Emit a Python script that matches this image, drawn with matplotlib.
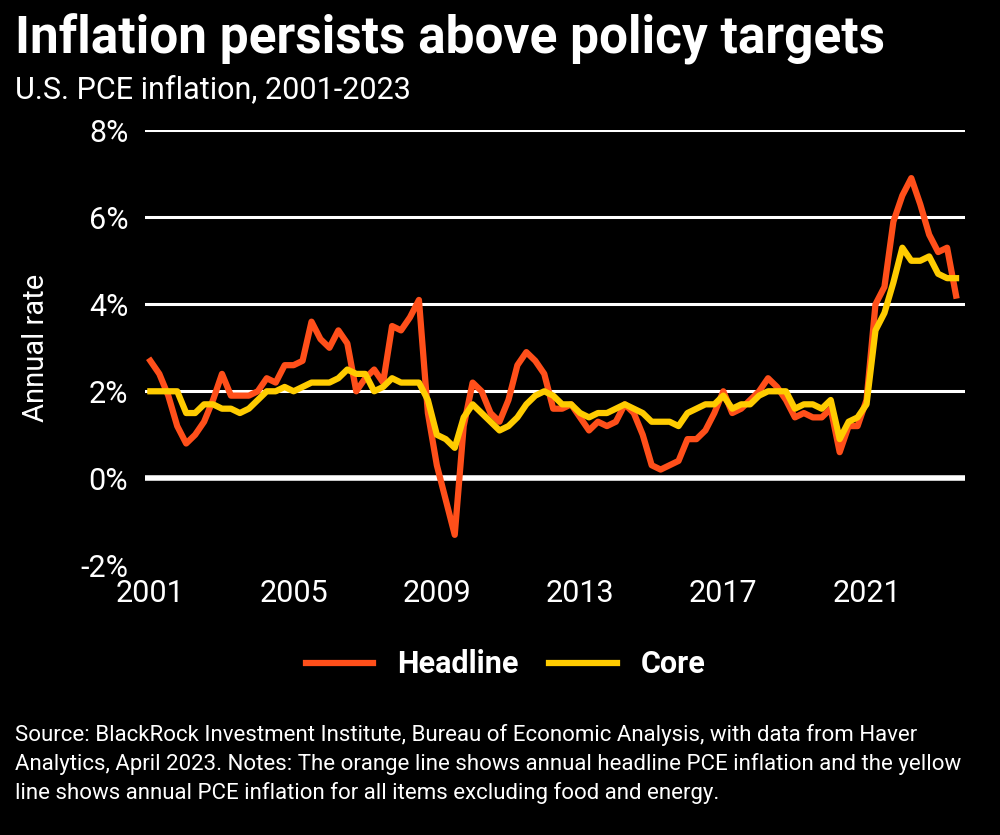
import numpy as np
import matplotlib.pyplot as plt

# quarterly readings, 2001 Q1 onwards (annual rate, %)
headline = [2.7, 2.4, 1.9, 1.2,
            0.8, 1.0, 1.3, 1.8,
            2.4, 1.9, 1.9, 1.9,
            2.0, 2.3, 2.2, 2.6,
            2.6, 2.7, 3.6, 3.2,
            3.0, 3.4, 3.1, 2.0,
            2.3, 2.5, 2.2, 3.5,
            3.4, 3.7, 4.1, 1.5,
            0.3, -0.5, -1.3, 1.2,
            2.2, 2.0, 1.5, 1.3,
            1.8, 2.6, 2.9, 2.7,
            2.4, 1.6, 1.6, 1.7,
            1.4, 1.1, 1.3, 1.2,
            1.3, 1.7, 1.5, 1.0,
            0.3, 0.2, 0.3, 0.4,
            0.9, 0.9, 1.1, 1.5,
            2.0, 1.5, 1.6, 1.8,
            2.0, 2.3, 2.1, 1.8,
            1.4, 1.5, 1.4, 1.4,
            1.6, 0.6, 1.2, 1.2,
            1.8, 4.0, 4.4, 5.9,
            6.5, 6.9, 6.3, 5.6,
            5.2, 5.3, 4.2]
core = [2.0, 2.0, 2.0, 2.0,
        1.5, 1.5, 1.7, 1.7,
        1.6, 1.6, 1.5, 1.6,
        1.8, 2.0, 2.0, 2.1,
        2.0, 2.1, 2.2, 2.2,
        2.2, 2.3, 2.5, 2.4,
        2.4, 2.0, 2.1, 2.3,
        2.2, 2.2, 2.2, 1.8,
        1.0, 0.9, 0.7, 1.4,
        1.7, 1.5, 1.3, 1.1,
        1.2, 1.4, 1.7, 1.9,
        2.0, 1.9, 1.7, 1.7,
        1.5, 1.4, 1.5, 1.5,
        1.6, 1.7, 1.6, 1.5,
        1.3, 1.3, 1.3, 1.2,
        1.5, 1.6, 1.7, 1.7,
        1.9, 1.6, 1.7, 1.7,
        1.9, 2.0, 2.0, 2.0,
        1.6, 1.7, 1.7, 1.6,
        1.8, 0.9, 1.3, 1.4,
        1.7, 3.4, 3.8, 4.5,
        5.3, 5.0, 5.0, 5.1,
        4.7, 4.6, 4.6]
dates = 2001 + np.arange(len(headline)) / 4
year_ticks = [2001, 2005, 2009, 2013, 2017, 2021]
pct_ticks = [-2, 0, 2, 4, 6, 8]

plt.rcParams['font.family'] = ['Roboto', 'DejaVu Sans']
fig = plt.figure(figsize=(10, 8.35), dpi=100, facecolor='black')
ax = fig.add_axes([0.145, 0.323, 0.82, 0.521], facecolor='black')

for v in pct_ticks[2:]:
    ax.axhline(v, color='white', lw=2.2, zorder=1)
ax.axhline(0, color='white', lw=4, zorder=1)

ax.plot(dates, headline, color='#ff4f1a', lw=4.5, zorder=3, label='Headline')
ax.plot(dates, core, color='#ffcc00', lw=4.5, zorder=4, label='Core')

ax.set_xlim(2000.85, 2023.75)
ax.set_ylim(-2, 8)
ax.set_xticks(year_ticks)
ax.set_yticks(pct_ticks)
ax.set_yticklabels([f'{v}%' for v in pct_ticks])
ax.tick_params(colors='white', labelsize=22, length=0, pad=12)
ax.tick_params(axis='x', pad=10)
for s in ax.spines.values():
    s.set_visible(False)
ax.set_ylabel('Annual rate', color='white', fontsize=21, labelpad=22)

leg = ax.legend(loc='upper center', bbox_to_anchor=(0.44, -0.13), ncol=2,
                frameon=False, handlelength=2.2, columnspacing=1.0,
                prop={'size': 22, 'weight': 'bold'})
for t in leg.get_texts():
    t.set_color('white')

fig.text(0.015, 0.953, 'Inflation persists above policy targets', color='white',
         fontsize=37, fontweight='bold', va='center')
fig.text(0.015, 0.893, 'U.S. PCE inflation, 2001-2023', color='white',
         fontsize=22, va='center')
fig.text(0.015, 0.085,
         'Source: BlackRock Investment Institute, Bureau of Economic Analysis, with data from Haver\n'
         'Analytics, April 2023. Notes: The orange line shows annual headline PCE inflation and the yellow\n'
         'line shows annual PCE inflation for all items excluding food and energy.',
         color='white', fontsize=16, va='center', linespacing=1.4)

fig.savefig('out.png', facecolor='black')
